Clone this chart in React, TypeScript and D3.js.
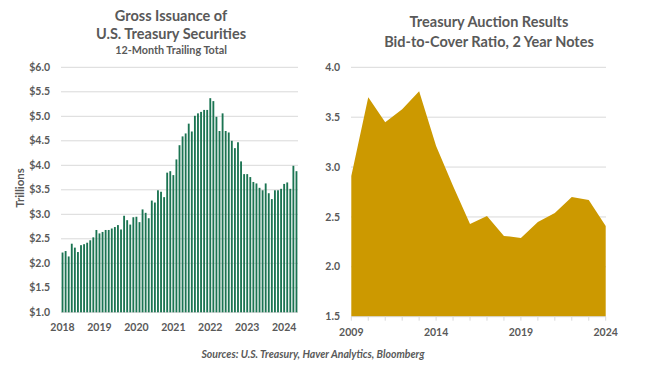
import React from 'react';
import * as d3 from 'd3';

// Gross issuance, 12-month trailing total, $ trillions (Jan 2018 - May 2024)
const issuance = [
  2.22, 2.25, 2.14, 2.40, 2.32, 2.23, 2.37, 2.39, 2.42, 2.47, 2.53, 2.68,
  2.61, 2.64, 2.68, 2.68, 2.71, 2.74, 2.78, 2.69, 2.97, 2.88, 2.79, 2.94,
  2.95, 2.84, 3.10, 3.03, 2.92, 3.28, 3.24, 3.49, 3.46, 3.35, 3.85, 3.88,
  3.80, 4.12, 4.41, 4.59, 4.65, 4.85, 4.69, 5.01, 5.06, 5.09, 5.13, 5.13,
  5.37, 5.31, 4.99, 4.70, 5.06, 4.70, 4.67, 4.50, 4.35, 4.47, 4.08, 3.82,
  3.82, 3.76, 3.66, 3.63, 3.54, 3.49, 3.63, 3.43, 3.31, 3.49, 3.49, 3.52,
  3.62, 3.65, 3.52, 3.99, 3.88,
];
const issuanceYears = ['2018', '2019', '2020', '2021', '2022', '2023', '2024'];
const issuanceTicks = [1.0, 1.5, 2.0, 2.5, 3.0, 3.5, 4.0, 4.5, 5.0, 5.5, 6.0];

// Bid-to-cover ratio, 2 year notes
const auctionYears = [2009, 2010, 2011, 2012, 2013, 2014, 2015, 2016, 2017, 2018, 2019, 2020, 2021, 2022, 2023, 2024];
const bidToCover = [2.91, 3.70, 3.45, 3.58, 3.76, 3.21, 2.81, 2.43, 2.51, 2.31, 2.29, 2.45, 2.54, 2.70, 2.67, 2.41];
const ratioTicks = [1.5, 2.0, 2.5, 3.0, 3.5, 4.0];
const ratioLabels = [2009, 2014, 2019, 2024];

const FONT = 'Lato, "Open Sans", sans-serif';
const TEXT = '#595959';
const GRID = '#d9d9d9';

export default function App() {
  // left chart
  const xL = d3.scaleBand<number>()
    .domain(d3.range(issuance.length))
    .range([61, 298])
    .paddingInner(0.4)
    .paddingOuter(0.2);
  const yL = d3.scaleLinear().domain([1, 6]).range([312.3, 67.3]);

  // right chart
  const xR = d3.scaleLinear().domain([2009, 2024]).range([351.3, 605.7]);
  const yR = d3.scaleLinear().domain([1.5, 4]).range([316.7, 67.3]);
  const area = d3.area<number>()
    .x((_, i) => xR(auctionYears[i]))
    .y0(yR(1.5))
    .y1((d) => yR(d));

  return (
    <svg width={650} height={374} style={{ position: 'absolute', left: 0, top: 0, background: '#fff' }} fontFamily={FONT}>
      {/* left titles */}
      <g fill={TEXT} fontWeight="bold" textAnchor="middle">
        <text x={171} y={21} fontSize={14.5}>Gross Issuance of</text>
        <text x={171} y={39} fontSize={14.5}>U.S. Treasury Securities</text>
        <text x={171} y={54} fontSize={10.8}>12-Month Trailing Total</text>
      </g>

      {issuanceTicks.map((t) => (
        <g key={t}>
          <line x1={61} x2={298} y1={yL(t)} y2={yL(t)} stroke={GRID} strokeWidth={1} />
          <text x={50} y={yL(t)} dy="0.35em" textAnchor="end" fontSize={10.5} fontWeight="bold" fill={TEXT}>
            {`$${t.toFixed(1)}`}
          </text>
        </g>
      ))}

      {issuance.map((v, i) => (
        <rect key={i} x={xL(i)} width={xL.bandwidth()} y={yL(v)} height={yL(1) - yL(v)} fill="#1b7452" />
      ))}

      {issuanceYears.map((yr, k) => (
        <text key={yr} x={xL(k * 12)! + xL.bandwidth() / 2} y={331} textAnchor="middle" fontSize={10.5} fontWeight="bold" fill={TEXT}>
          {yr}
        </text>
      ))}

      <text transform="translate(24,188) rotate(-90)" textAnchor="middle" fontSize={11.5} fontWeight="bold" fill={TEXT}>Trillions</text>

      {/* right titles */}
      <g fill={TEXT} fontWeight="bold" textAnchor="middle">
        <text x={489} y={27} fontSize={14.5}>Treasury Auction Results</text>
        <text x={489} y={47} fontSize={14.5}>Bid-to-Cover Ratio, 2 Year Notes</text>
      </g>

      {ratioTicks.map((t) => (
        <g key={t}>
          {t > 1.5 && <line x1={351} x2={606} y1={yR(t)} y2={yR(t)} stroke={GRID} strokeWidth={1} />}
          <text x={340} y={yR(t)} dy="0.35em" textAnchor="end" fontSize={10.5} fontWeight="bold" fill={TEXT}>
            {t.toFixed(1)}
          </text>
        </g>
      ))}

      <path d={area(bidToCover) ?? ''} fill="#cc9900" />

      <line x1={351.3} x2={605.7} y1={yR(1.5)} y2={yR(1.5)} stroke={GRID} />
      {auctionYears.map((yr) => (
        <line key={yr} x1={xR(yr)} x2={xR(yr)} y1={yR(1.5)} y2={yR(1.5) + 4} stroke={GRID} />
      ))}
      {ratioLabels.map((yr) => (
        <text key={yr} x={xR(yr)} y={336} textAnchor="middle" fontSize={10.5} fontWeight="bold" fill={TEXT}>
          {yr}
        </text>
      ))}

      <text x={313} y={358} textAnchor="middle" fontSize={10.5} fontStyle="italic" fontWeight="bold" fill={TEXT}>
        Sources: U.S. Treasury, Haver Analytics, Bloomberg
      </text>
    </svg>
  );
}
